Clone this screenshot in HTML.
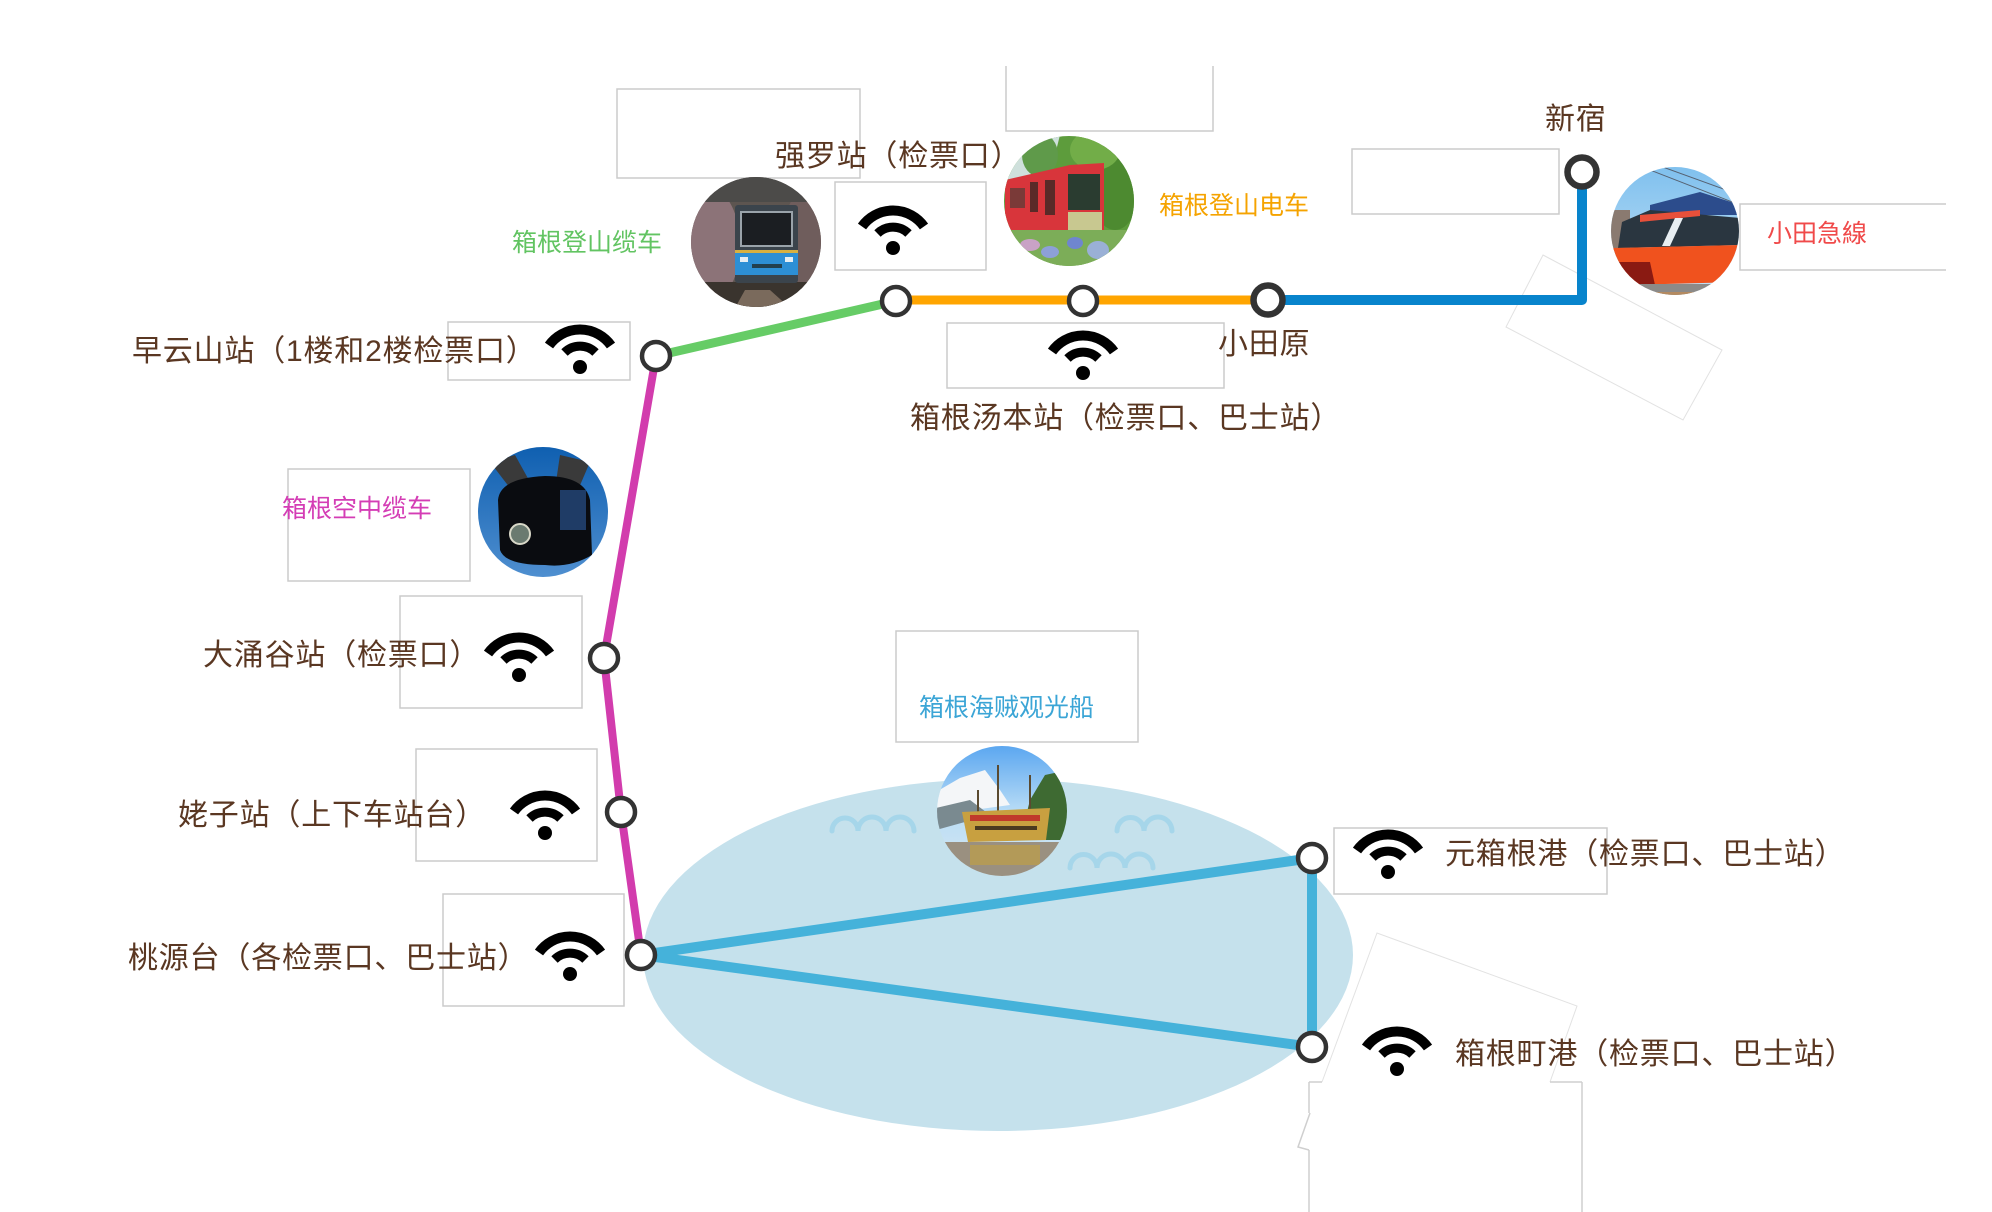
<!DOCTYPE html>
<html><head><meta charset="utf-8"><style>
html,body{margin:0;padding:0;background:#fff;}
svg{display:block;}
text{font-family:"Liberation Sans","Noto Sans CJK SC",sans-serif;}
</style></head><body>
<svg width="1992" height="1212" viewBox="0 0 1992 1212" xmlns="http://www.w3.org/2000/svg">
<defs>
<g id="wifi">
<circle cx="0" cy="0" r="7" fill="#000"/>
<path d="M -15.5,-14.5 A 22,22 0 0 1 15.5,-14.5" fill="none" stroke="#000" stroke-width="9"/>
<path d="M -31,-21.5 A 38,38 0 0 1 31,-21.5" fill="none" stroke="#000" stroke-width="10"/>
</g>
<clipPath id="c1"><circle cx="756" cy="242" r="65"/></clipPath>
<clipPath id="c2"><circle cx="1069" cy="201" r="65"/></clipPath>
<clipPath id="c3"><circle cx="1675" cy="231" r="64"/></clipPath>
<clipPath id="c4"><circle cx="543" cy="512" r="65"/></clipPath>
<clipPath id="c5"><circle cx="1002" cy="811" r="65"/></clipPath>
<linearGradient id="g4" x1="0" y1="0" x2="0" y2="1"><stop offset="0" stop-color="#0f5fb0"/><stop offset="1" stop-color="#4f8fd0"/></linearGradient>
<linearGradient id="g5" x1="0" y1="0" x2="0" y2="1"><stop offset="0" stop-color="#5aa6f0"/><stop offset="0.5" stop-color="#b8dcf6"/><stop offset="1" stop-color="#d8e8f0"/></linearGradient>
<linearGradient id="g3" x1="0" y1="0" x2="0" y2="1"><stop offset="0" stop-color="#7fc0ee"/><stop offset="1" stop-color="#c4e2f6"/></linearGradient>
</defs>

<!-- faint rotated boxes -->
<polygon points="1543,255 1722,350 1683,420 1506,327" fill="none" stroke="#e2e2e2" stroke-width="1"/>
<polyline points="1322,1082 1377,933 1577,1006 1550,1082" fill="none" stroke="#e2e2e2" stroke-width="1"/>
<g stroke="#cfcfcf" stroke-width="1.5" fill="none">
<line x1="1309" y1="1082" x2="1322" y2="1082"/>
<line x1="1550" y1="1082" x2="1582" y2="1082"/>
<line x1="1582" y1="1082" x2="1582" y2="1212"/>
<line x1="1309" y1="1082" x2="1309" y2="1113"/>
<polyline points="1310,1113 1298,1147 1309,1150"/>
<line x1="1309" y1="1150" x2="1309" y2="1212"/>
</g>

<!-- boxes -->
<g fill="none" stroke="#cbcbcb" stroke-width="1.5">
<rect x="617" y="89" width="243" height="89"/>
<polyline points="1006,66 1006,131 1213,131 1213,66"/>
<rect x="835" y="182" width="151" height="88"/>
<rect x="448" y="322" width="182" height="58"/>
<rect x="947" y="323" width="277" height="65"/>
<rect x="1352" y="149" width="207" height="65"/>
<polyline points="1946,204 1740,204 1740,270 1946,270"/>
<rect x="288" y="469" width="182" height="112"/>
<rect x="400" y="596" width="182" height="112"/>
<rect x="416" y="749" width="181" height="112"/>
<rect x="443" y="894" width="181" height="112"/>
<rect x="896" y="631" width="242" height="111"/>
<rect x="1334" y="828" width="273" height="66"/>
</g>

<!-- lake -->
<ellipse cx="998" cy="955" rx="355" ry="176" fill="#c5e1ec"/>
<g fill="none" stroke="#a6d6ea" stroke-width="5" stroke-linecap="round">
<path d="M832,831 a13,13 0 0 1 26,0 a13,13 0 0 1 28,0 a13,13 0 0 1 28,0"/>
<path d="M1070,868 a13,13 0 0 1 27,0 a13,13 0 0 1 28,0 a13,13 0 0 1 28,0"/>
<path d="M1117,831 a13,13 0 0 1 27,0 a13,13 0 0 1 28,0"/>
</g>

<!-- lines -->
<g fill="none" stroke-linecap="round" stroke-linejoin="round">
<polyline points="641,955 1312,858 1312,1047 641,955" stroke="#45b2da" stroke-width="10"/>
<polyline points="656,356 604,658 621,812 641,955" stroke="#d23cad" stroke-width="8"/>
<line x1="656" y1="356" x2="896" y2="301" stroke="#66cc66" stroke-width="9"/>
<line x1="896" y1="300" x2="1268" y2="300" stroke="#ffa500" stroke-width="9"/>
<polyline points="1268,300 1582,300 1582,172" stroke="#0884cc" stroke-width="10"/>
</g>

<!-- nodes -->
<g fill="#fff" stroke="#333" stroke-width="4.5">
<circle cx="656" cy="356" r="14"/>
<circle cx="896" cy="301" r="14"/>
<circle cx="1083" cy="301" r="14"/>
<circle cx="604" cy="658" r="14"/>
<circle cx="621" cy="812" r="14"/>
<circle cx="641" cy="955" r="14"/>
<circle cx="1312" cy="858" r="14"/>
<circle cx="1312" cy="1047" r="14"/>
<circle cx="1268" cy="300" r="14.5" stroke-width="6.5"/>
<circle cx="1582" cy="172" r="14.5" stroke-width="6.5"/>
</g>

<!-- photo 1: cable car -->
<g clip-path="url(#c1)">
<rect x="690" y="176" width="132" height="132" fill="#5d5550"/>
<ellipse cx="712" cy="245" rx="28" ry="55" fill="#8c7378"/>
<ellipse cx="805" cy="240" rx="22" ry="50" fill="#6f5d5c"/>
<rect x="690" y="176" width="132" height="26" fill="#4c4b49"/>
<rect x="690" y="282" width="132" height="26" fill="#3a342e"/>
<polygon points="745,290 770,290 790,308 735,308" fill="#7a6a5c"/>
<rect x="735" y="205" width="63" height="78" rx="3" fill="#3b444c"/>
<rect x="741" y="212" width="51" height="34" fill="#1b1e22" stroke="#9aa3aa" stroke-width="2"/>
<rect x="735" y="250" width="63" height="3" fill="#d8b040"/>
<rect x="735" y="253" width="63" height="22" fill="#2d8fd5"/>
<rect x="740" y="257" width="8" height="5" fill="#e6eef4"/>
<rect x="785" y="257" width="8" height="5" fill="#e6eef4"/>
<rect x="752" y="264" width="30" height="4" fill="#22404f"/>
</g>

<!-- photo 2: mountain train -->
<g clip-path="url(#c2)">
<rect x="1003" y="135" width="132" height="132" fill="#5d9c3c"/>
<polygon points="1003,135 1060,135 1050,175 1003,180" fill="#cfe0dc"/>
<ellipse cx="1040" cy="155" rx="18" ry="22" fill="#5f9a4a"/>
<ellipse cx="1115" cy="185" rx="25" ry="45" fill="#4d8a30"/>
<ellipse cx="1095" cy="150" rx="25" ry="20" fill="#72ad48"/>
<polygon points="1005,180 1070,165 1104,163 1104,230 1070,232 1005,236" fill="#d8353b"/>
<rect x="1068" y="174" width="32" height="36" fill="#2a3c30"/>
<rect x="1068" y="212" width="34" height="18" fill="#c8c890"/>
<rect x="1030" y="182" width="8" height="30" fill="#5a2a28"/>
<rect x="1045" y="180" width="10" height="35" fill="#5a2a28"/>
<rect x="1010" y="188" width="15" height="20" fill="#7a3a38"/>
<rect x="1003" y="230" width="132" height="40" fill="#7cad58"/>
<ellipse cx="1030" cy="245" rx="10" ry="6" fill="#c9a2c6"/>
<ellipse cx="1050" cy="252" rx="9" ry="6" fill="#8da0d8"/>
<ellipse cx="1075" cy="243" rx="8" ry="6" fill="#6f86cf"/>
<ellipse cx="1098" cy="250" rx="11" ry="9" fill="#9ab0d6"/>
<ellipse cx="1018" cy="258" rx="9" ry="5" fill="#dcb8d8"/>
</g>

<!-- photo 3: Odakyu -->
<g clip-path="url(#c3)">
<rect x="1610" y="166" width="130" height="130" fill="url(#g3)"/>
<line x1="1650" y1="170" x2="1740" y2="205" stroke="#556070" stroke-width="1"/>
<line x1="1660" y1="166" x2="1740" y2="195" stroke="#556070" stroke-width="1"/>
<rect x="1610" y="210" width="20" height="60" fill="#8a7a70"/>
<polygon points="1650,205 1700,192 1740,205 1740,215 1650,215" fill="#2c4c8c"/>
<polygon points="1622,222 1650,210 1740,218 1740,245 1618,248" fill="#2a3640"/>
<polygon points="1640,215 1700,210 1700,216 1640,222" fill="#e8503a"/>
<polygon points="1612,248 1740,245 1740,282 1625,285 1612,270" fill="#f0521e"/>
<polygon points="1612,262 1650,262 1655,285 1625,286 1612,275" fill="#8a1a12"/>
<rect x="1610" y="284" width="130" height="14" fill="#8c8a88"/>
<rect x="1610" y="292" width="130" height="6" fill="#b48a60"/>
<polygon points="1675,218 1683,218 1670,246 1662,246" fill="#e8eef2"/>
</g>

<!-- photo 4: ropeway -->
<g clip-path="url(#c4)">
<rect x="477" y="446" width="132" height="132" fill="url(#g4)"/>
<polygon points="490,462 515,455 530,482 510,488" fill="#3a3a3a"/>
<polygon points="560,455 590,462 578,490 556,482" fill="#3a3a3a"/>
<path d="M498,500 Q500,478 545,476 Q585,476 590,500 L592,555 Q570,568 545,565 Q505,565 500,550 Z" fill="#0a0c10"/>
<rect x="560" y="490" width="26" height="40" fill="#1f3c66"/>
<circle cx="520" cy="534" r="10" fill="#6a7a70" stroke="#d8d8c8" stroke-width="2"/>
</g>

<!-- photo 5: pirate ship -->
<g clip-path="url(#c5)">
<rect x="936" y="745" width="132" height="132" fill="url(#g5)"/>
<polygon points="936,792 960,778 985,770 1000,790 1010,805 936,815" fill="#f4f6f8"/>
<polygon points="936,808 970,800 990,815 936,830" fill="#7a8a90"/>
<polygon points="1030,800 1045,775 1068,770 1068,840 1020,840" fill="#3e6a32"/>
<line x1="998" y1="765" x2="998" y2="815" stroke="#5a4a30" stroke-width="2"/>
<line x1="1030" y1="775" x2="1030" y2="815" stroke="#5a4a30" stroke-width="2"/>
<line x1="978" y1="790" x2="978" y2="815" stroke="#5a4a30" stroke-width="2"/>
<polygon points="962,812 1050,808 1046,840 968,842" fill="#c8a040"/>
<rect x="970" y="815" width="70" height="6" fill="#c0392b"/>
<rect x="975" y="826" width="62" height="4" fill="#4a3a20"/>
<rect x="936" y="842" width="132" height="40" fill="#9a9080"/>
<rect x="970" y="845" width="70" height="20" fill="#b39a58"/>
</g>

<!-- wifi icons -->
<use href="#wifi" transform="translate(893,248)"/>
<use href="#wifi" transform="translate(580,367)"/>
<use href="#wifi" transform="translate(1083,373)"/>
<use href="#wifi" transform="translate(519,675)"/>
<use href="#wifi" transform="translate(545,833)"/>
<use href="#wifi" transform="translate(570,974)"/>
<use href="#wifi" transform="translate(1388,872)"/>
<use href="#wifi" transform="translate(1397,1069)"/>

<!-- station labels -->
<g fill="#5a3722" font-size="30" letter-spacing="0.8">
<text x="775" y="166">强罗站（检票口）</text>
<text x="132" y="361">早云山站（1楼和2楼检票口）</text>
<text x="203" y="665">大涌谷站（检票口）</text>
<text x="178" y="825">姥子站（上下车站台）</text>
<text x="128" y="968">桃源台（各检票口、巴士站）</text>
<text x="1545" y="129">新宿</text>
<text x="1218" y="354">小田原</text>
<text x="910" y="428">箱根汤本站（检票口、巴士站）</text>
<text x="1445" y="864">元箱根港（检票口、巴士站）</text>
<text x="1455" y="1064">箱根町港（检票口、巴士站）</text>
</g>

<!-- line labels -->
<g font-size="25">
<text x="512" y="251" fill="#62c462">箱根登山缆车</text>
<text x="1159" y="214" fill="#f5a300">箱根登山电车</text>
<text x="1767" y="242" fill="#f04a4a">小田急線</text>
<text x="282" y="517" fill="#d43db5">箱根空中缆车</text>
<text x="919" y="716" fill="#3ba5d6">箱根海贼观光船</text>
</g>
</svg>
</body></html>
